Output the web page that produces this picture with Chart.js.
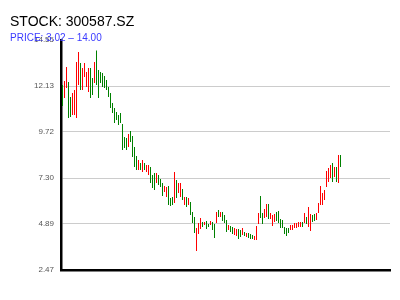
<!DOCTYPE html>
<html><head><meta charset="utf-8">
<style>html,body{margin:0;padding:0;background:#fff}canvas{display:block}</style>
<script src="https://cdn.jsdelivr.net/npm/chart.js@4/dist/chart.umd.min.js"></script>
</head><body>
<canvas id="c" width="400" height="300"></canvas>
<script>
const TITLE = 'STOCK: 300587.SZ';
const SUBTITLE = 'PRICE: 3.02 \u2013 14.00';
const yTicks = [2.47, 4.89, 7.30, 9.72, 12.13, 14.55];
const highs = [
  12.19,12.40,13.13,12.34,11.56,11.77,11.92,13.39,13.92,13.34,
  13.08,13.34,12.87,13.08,13.08,12.55,13.39,14.00,12.97,12.87,
  12.82,12.66,12.45,12.08,11.77,11.24,10.98,10.77,10.61,10.72,
  10.14,9.46,9.40,9.61,9.77,9.51,8.93,8.46,8.25,8.09,
  8.25,8.09,7.99,7.99,7.88,7.46,7.57,7.57,7.46,7.25,
  7.04,6.88,6.83,6.88,6.25,6.31,7.62,7.20,7.04,7.04,
  6.72,6.31,6.31,6.25,6.04,5.52,5.25,4.68,4.94,5.20,
  4.99,4.99,5.04,4.89,5.04,4.99,4.89,5.52,5.62,5.52,
  5.52,5.36,5.10,4.83,4.78,4.73,4.68,4.62,4.62,4.57,
  4.68,4.47,4.41,4.41,4.36,4.31,4.26,4.78,5.46,6.36,
  5.46,5.67,5.94,5.94,5.46,5.36,5.41,5.52,5.57,5.15,
  5.10,4.73,4.68,4.68,4.83,4.83,4.94,4.94,4.99,4.99,
  4.99,5.46,5.25,5.78,5.41,5.36,5.41,5.46,5.99,6.88,
  6.52,6.67,7.67,7.83,7.99,8.09,7.88,7.88,8.51,8.51
];
const lows = [
  11.08,11.50,12.03,10.45,10.51,10.61,10.61,10.45,12.19,11.92,
  11.92,12.61,12.08,11.82,11.50,11.66,12.29,12.19,11.50,12.29,
  12.08,12.03,11.92,11.56,10.98,10.72,10.19,10.35,10.09,10.19,
  8.77,8.88,8.77,8.93,9.19,8.41,7.88,7.72,7.72,7.72,
  7.62,7.72,7.62,7.46,7.04,6.78,6.67,7.04,6.94,6.83,
  6.36,6.57,6.31,5.88,5.83,5.88,5.99,6.25,6.52,6.31,
  6.15,5.88,5.78,5.88,5.36,4.94,4.41,3.47,4.36,4.62,
  4.73,4.83,4.62,4.73,4.83,4.57,4.15,4.94,5.25,5.25,
  5.04,4.94,4.47,4.57,4.47,4.36,4.31,4.26,4.10,4.20,
  4.31,4.26,4.20,4.15,4.10,4.10,4.05,4.05,4.89,5.20,
  4.89,5.20,5.25,5.15,5.15,4.78,4.99,5.04,4.94,4.68,
  4.68,4.36,4.26,4.41,4.57,4.57,4.68,4.68,4.73,4.73,
  4.73,4.94,4.89,4.73,4.52,4.99,5.04,5.10,5.46,5.88,
  5.88,6.15,6.83,7.09,7.30,7.09,7.36,7.09,7.04,7.88
];
const dirs = [
  'd','u','u','d','d','u','u','u','u','d',
  'u','u','u','u','d','d','u','d','d','d',
  'd','d','d','d','d','d','d','d','d','d',
  'd','d','d','u','d','d','d','d','u','d',
  'u','d','u','u','d','d','d','u','d','d',
  'd','u','u','d','d','d','u','d','u','u',
  'd','u','d','u','d','d','d','u','u','u',
  'd','u','d','d','u','d','d','u','d','u',
  'd','d','d','u','d','d','u','u','d','d',
  'u','d','u','d','d','d','u','u','u','d',
  'd','u','u','d','u','u','u','d','d','d',
  'd','d','d','d','u','u','u','u','u','u',
  'd','u','d','u','u','d','d','u','u','u',
  'u','u','u','u','u','d','u','d','u','d'
];
const X_SLOTS = 164.5;

const titles = {
  id: 'titles',
  afterDraw(chart) {
    const ctx = chart.ctx;
    ctx.save();
    ctx.textAlign = 'left';
    ctx.textBaseline = 'alphabetic';
    ctx.fillStyle = '#000';
    ctx.font = '14px "Liberation Sans", Arial, sans-serif';
    ctx.fillText(TITLE, 10, 26);
    ctx.fillStyle = '#3a3aff';
    ctx.font = '10px "Liberation Sans", Arial, sans-serif';
    ctx.fillText(SUBTITLE, 10, 41);
    ctx.restore();
  }
};

new Chart(document.getElementById('c'), {
  type: 'bar',
  data: {
    datasets: [{
      data: highs.map((h, i) => ({ x: i, y: [lows[i], h] })),
      backgroundColor: dirs.map(d => d === 'u' ? '#ff0000' : '#008000'),
      borderWidth: 0,
      inflateAmount: 0,
      barThickness: 1,
      grouped: false
    }]
  },
  options: {
    responsive: false,
    devicePixelRatio: 1,
    animation: false,
    layout: { padding: { top: 40, right: 10, bottom: 30, left: 0 } },
    plugins: { legend: { display: false }, tooltip: { enabled: false }, title: { display: false } },
    scales: {
      x: {
        type: 'linear',
        offset: false,
        bounds: 'ticks',
        min: -0.75,
        max: X_SLOTS - 0.75,
        grid: { display: false, drawTicks: false, offset: false },
        ticks: { display: false },
        border: { display: true, color: '#000', width: 2.5 },
        afterFit(s) { s.height = 0; }
      },
      y: {
        min: yTicks[0],
        max: yTicks[yTicks.length - 1],
        afterBuildTicks(s) { s.ticks = yTicks.map(v => ({ value: v })); },
        ticks: {
          font: { size: 8, family: '"Liberation Sans", Arial, sans-serif' },
          color: '#555',
          padding: 7,
          callback: v => Number(v).toFixed(2)
        },
        grid: {
          drawTicks: false,
          color: c => (c.tick && (c.tick.value === yTicks[yTicks.length - 1] || c.tick.value === yTicks[0])) ? 'rgba(0,0,0,0)' : '#cccccc',
          lineWidth: 1
        },
        border: { display: true, color: '#000', width: 2.5 },
        afterFit(s) { s.width = 61; }
      }
    }
  },
  plugins: [titles]
});
</script>
</body></html>
